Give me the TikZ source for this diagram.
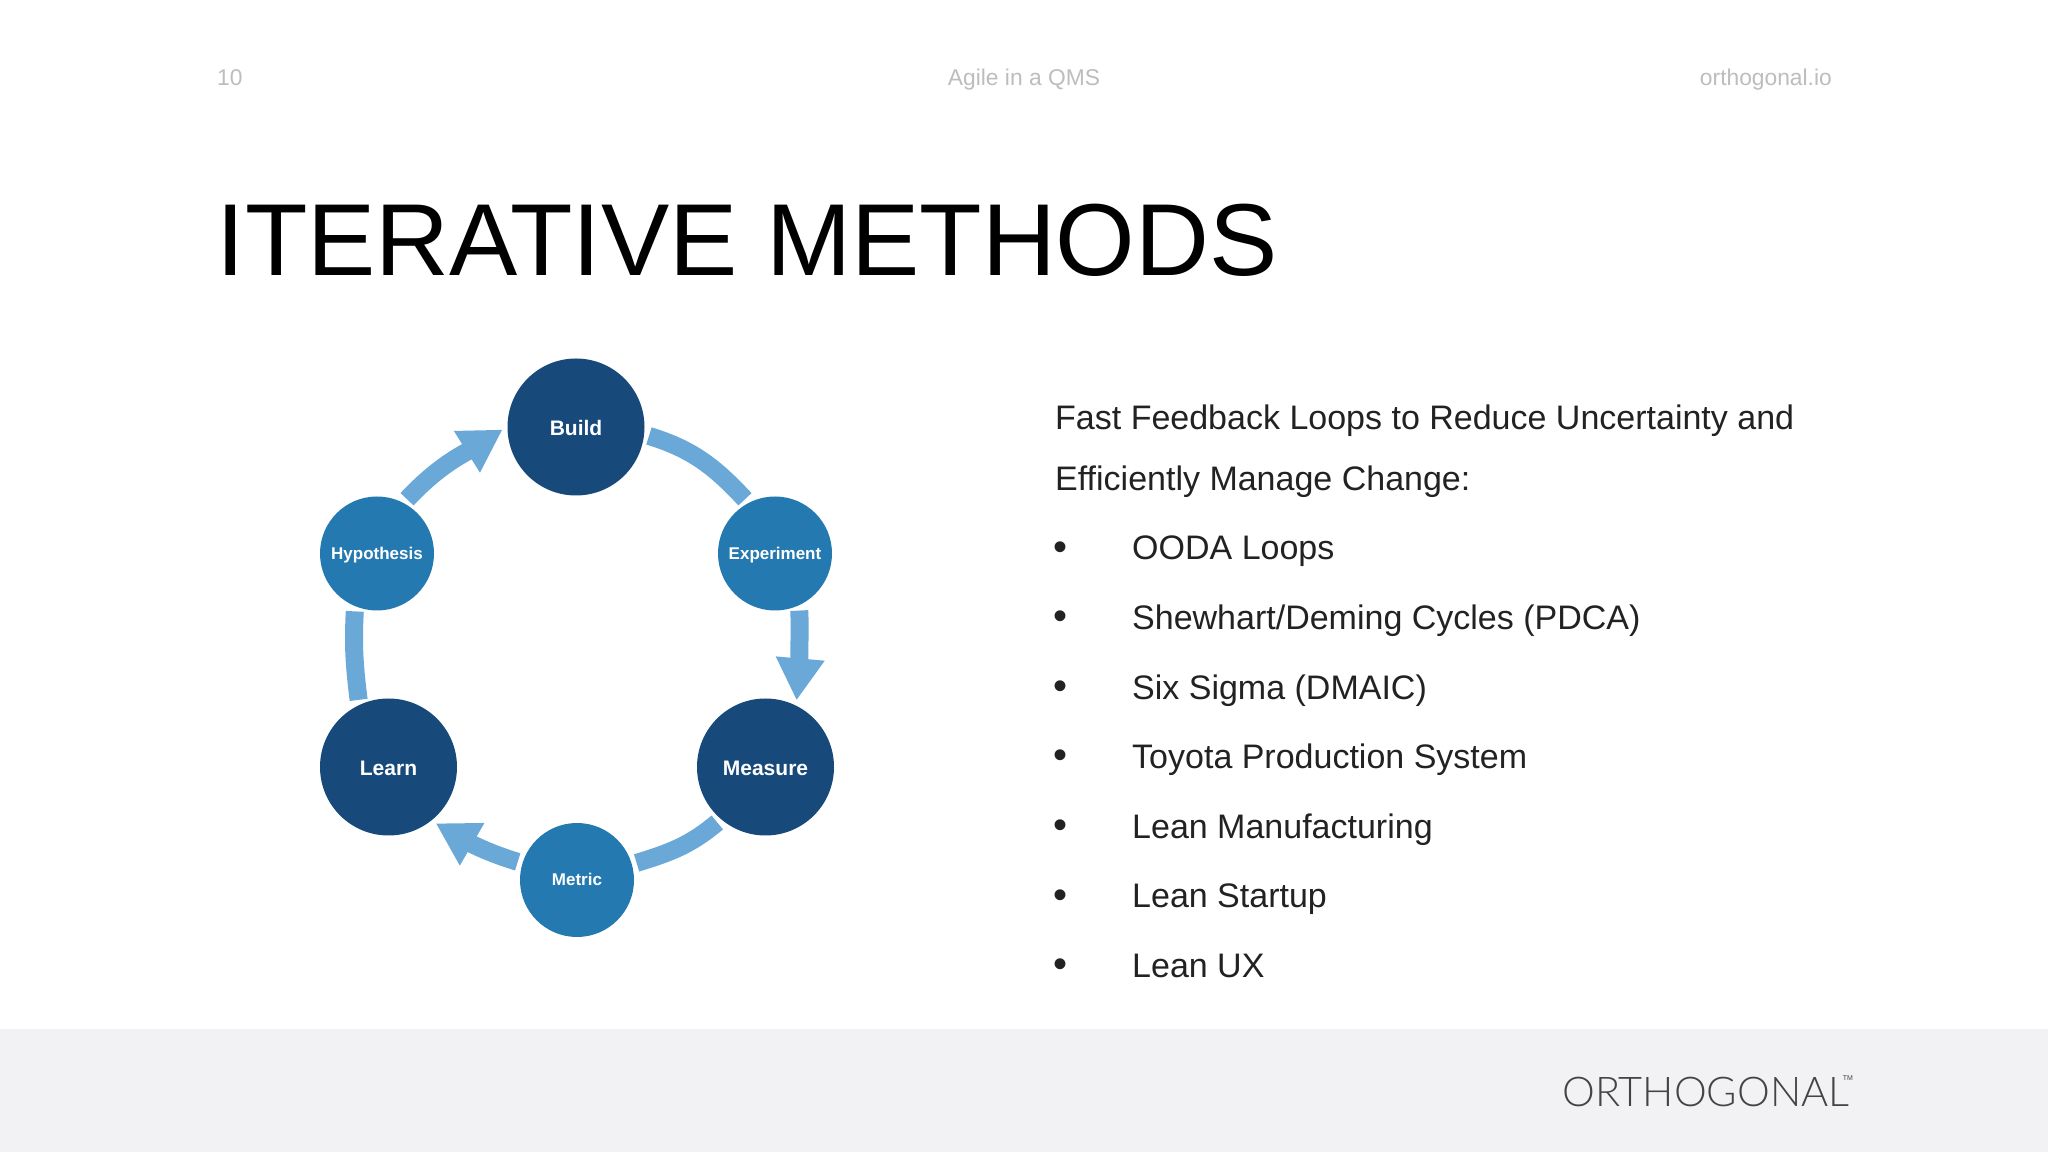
\documentclass[tikz,border=0pt]{standalone}
\usepackage{xcolor}
\usepackage{fontspec}
\setmainfont{Liberation Sans}
\newfontfamily\logofont{Lato Light}
\usepackage{tikz}
\usetikzlibrary{arrows.meta,positioning}

\definecolor{darkblue}{HTML}{17497A}
\definecolor{midblue}{HTML}{2479B0}
\definecolor{bandblue}{HTML}{6AA8D8}
\definecolor{footgray}{HTML}{F2F1F4}
\definecolor{headgray}{HTML}{BDBDBD}
\definecolor{bodyink}{HTML}{222222}
\definecolor{logoink}{HTML}{444444}

\begin{document}
\begin{tikzpicture}[
    x=1pt, y=1pt,
    node distance=35.15pt,
    header/.style={inner sep=0pt, text=headgray, font=\fontsize{22.8}{24}\selectfont},
    bigstep/.style={circle, fill=darkblue, text=white, minimum size=137pt, inner sep=0pt, outer sep=5pt, text height=18pt, text depth=1pt, font=\fontsize{21}{21}\selectfont\bfseries},
    smallstep/.style={circle, fill=midblue, text=white, minimum size=114pt, inner sep=0pt, outer sep=5pt, text height=14pt, text depth=2pt, font=\fontsize{17}{17}\selectfont\bfseries},
    band/.style={draw=bandblue, line width=18pt},
    bandarrow/.style={band, -{Triangle[width=46pt,length=42pt]}},
    item/.style={anchor=west, inner sep=0pt, text=bodyink, text height=26pt, text depth=8pt, font=\fontsize{34}{34}\selectfont},
    bulletmark/.style={inner sep=0pt, text=bodyink, font=\fontsize{40}{40}\selectfont}
]
\useasboundingbox (0,0) rectangle (2048,1152);
\fill[white] (0,0) rectangle (2048,1152);
\fill[footgray] (0,0) rectangle (2048,123);

\node[header, anchor=base west] (pagenum) at (217,1066) {10};
\node[header, anchor=base] (deck) at (1024,1066) {Agile in a QMS};
\node[header, anchor=base east] (site) at (1832,1066) {orthogonal.io};
\node[anchor=base west, inner sep=0pt, font=\fontsize{102.3}{104}\selectfont] (title) at (216.5,876) {ITERATIVE METHODS};

\node[bigstep] (build) at (576,725) {Build};
\node[smallstep] (experiment) at (775,598.5) {Experiment};
\node[bigstep] (measure) at (765.5,385) {Measure};
\node[smallstep] (metric) at (577,272) {Metric};
\node[bigstep] (learn) at (388.5,385) {Learn};
\node[smallstep] (hypothesis) at (377,598.5) {Hypothesis};

\draw[bandarrow] (hypothesis.61) to[out=47, in=212] (build.182);
\draw[band] (build.-7) to[out=-17, in=133] (experiment.119);
\draw[bandarrow] (experiment.-67) to[out=-86, in=85, looseness=0.5] (measure.65);
\draw[band] (measure.229) to[out=220, in=17] (metric.16);
\draw[bandarrow] (metric.163) to[out=163, in=-30] (learn.-50);
\draw[band] (learn.114) to[out=97, in=-93] (hypothesis.249);

\node[anchor=north west, align=left, inner sep=0pt, text=bodyink, font=\fontsize{34}{61}\selectfont] (intro) at (1055,747.5) {Fast Feedback Loops to Reduce Uncertainty and\\Efficiently Manage Change:};
\node[item] (ooda) at (1132,601) {OODA Loops};
\node[item, below=of ooda.south west, anchor=north west] (pdca) {Shewhart/Deming Cycles (PDCA)};
\node[item, below=of pdca.south west, anchor=north west] (dmaic) {Six Sigma (DMAIC)};
\node[item, below=of dmaic.south west, anchor=north west] (toyota) {Toyota Production System};
\node[item, below=of toyota.south west, anchor=north west] (manufacturing) {Lean Manufacturing};
\node[item, below=of manufacturing.south west, anchor=north west] (startup) {Lean Startup};
\node[item, below=of startup.south west, anchor=north west] (leanux) {Lean UX};

\node[bulletmark, left=64pt of ooda.west] (bulletooda) {•};
\node[bulletmark, left=64pt of pdca.west] (bulletpdca) {•};
\node[bulletmark, left=64pt of dmaic.west] (bulletdmaic) {•};
\node[bulletmark, left=64pt of toyota.west] (bullettoyota) {•};
\node[bulletmark, left=64pt of manufacturing.west] (bulletmanufacturing) {•};
\node[bulletmark, left=64pt of startup.west] (bulletstartup) {•};
\node[bulletmark, left=64pt of leanux.west] (bulletleanux) {•};

\node[anchor=base west, inner sep=0pt, xscale=1.01, text=logoink, font=\fontsize{41}{42}\logofont] (logo) at (1562,46) {ORTHOGONAL};
\node[inner sep=0pt, text=logoink, font=\fontsize{7}{7}\selectfont] (logotm) at (1848,74) {TM};
\end{tikzpicture}
\end{document}
